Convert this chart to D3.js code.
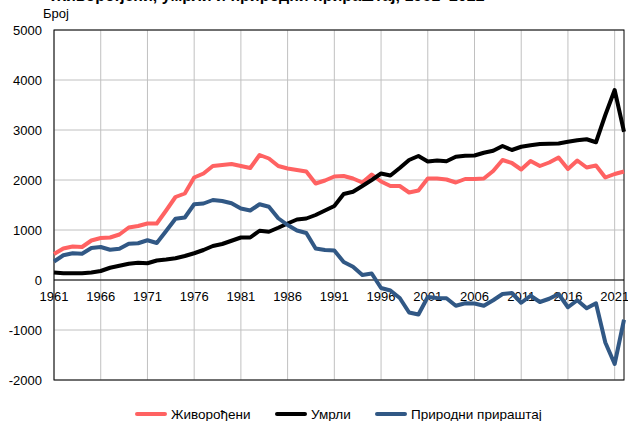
<!DOCTYPE html>
<html>
<head>
<meta charset="utf-8">
<script src="https://cdn.jsdelivr.net/npm/d3@7"></script>
<style>
  body { margin: 0; background: #fff; }
  text { font-family: "Liberation Sans", Arial, sans-serif; }
</style>
</head>
<body>
<div id="chart"></div>
<script>
// Years and series values
var years = d3.range(1961, 2023);

var births = [520, 630, 670, 660, 790, 840, 850, 910, 1050, 1080,
              1130, 1130, 1390, 1660, 1730, 2050, 2130, 2280, 2300, 2320,
              2280, 2240, 2500, 2430, 2280, 2230, 2200, 2170, 1930, 1990,
              2070, 2080, 2030, 1950, 2110, 1970, 1880, 1880, 1750, 1790,
              2030, 2030, 2010, 1950, 2020, 2020, 2030, 2180, 2400, 2340,
              2210, 2380, 2280, 2350, 2450, 2220, 2390, 2250, 2290, 2050,
              2120, 2170];

var deaths = [150, 135, 135, 135, 150, 180, 245, 285, 325, 345,
              335, 390, 410, 435, 480, 535, 600, 680, 720, 785,
              850, 850, 985, 965, 1045, 1130, 1210, 1230, 1300, 1390,
              1480, 1720, 1765, 1880, 2000, 2130, 2090, 2240, 2400, 2480,
              2370, 2390, 2375, 2465, 2485, 2490, 2545, 2585, 2680, 2600,
              2665, 2695, 2720, 2725, 2730, 2765, 2795, 2815, 2755, 3300,
              3800, 2965];

var natural = [370, 495, 535, 525, 640, 660, 605, 625, 725, 735,
               795, 740, 980, 1225, 1250, 1515, 1530, 1600, 1580, 1535,
               1430, 1390, 1515, 1465, 1235, 1100, 990, 940, 630, 600,
               590, 360, 265, 100, 130, -160, -210, -360, -650, -690,
               -340, -360, -365, -515, -465, -470, -515, -405, -280, -260,
               -455, -315, -440, -375, -280, -545, -405, -565, -465, -1250,
               -1680, -795];

var seriesNames = ["Живорођени", "Умрли", "Природни прираштај"];
var yTicks = [-2000, -1000, 0, 1000, 2000, 3000, 4000, 5000];
var xTicks = d3.range(1961, 2022, 5);

var svgWidth = 628;
var svgHeight = 421;

var svg = d3.select("#chart")
            .append("svg")
            .attr("width", svgWidth)
            .attr("height", svgHeight);

var x = d3.scaleLinear().domain([1961, 2022]).range([54, 624]);
var y = d3.scaleLinear().domain([-2000, 5000]).range([380, 30]);

// title, cut off at the very top like in the original
svg.append("text")
   .attr("x", 268)
   .attr("y", 1)
   .attr("text-anchor", "middle")
   .attr("font-size", "16px")
   .attr("font-weight", "bold")
   .text("Живорођени, умрли и природни прираштај, 1961–2022");

// y axis label
svg.append("text")
   .attr("x", 43)
   .attr("y", 18)
   .attr("font-size", "13px")
   .text("Број");

// grid
svg.append("g")
   .selectAll("line")
   .data(yTicks)
   .enter()
   .append("line")
   .attr("x1", x(1961))
   .attr("x2", x(2022))
   .attr("y1", d => y(d))
   .attr("y2", d => y(d))
   .attr("stroke", "#c0c0c0")
   .attr("stroke-width", 1);

svg.append("g")
   .selectAll("line")
   .data(xTicks)
   .enter()
   .append("line")
   .attr("x1", d => x(d))
   .attr("x2", d => x(d))
   .attr("y1", y(5000))
   .attr("y2", y(-2000))
   .attr("stroke", "#c0c0c0")
   .attr("stroke-width", 1);

// frame
svg.append("rect")
   .attr("x", x(1961))
   .attr("y", y(5000))
   .attr("width", x(2022) - x(1961))
   .attr("height", y(-2000) - y(5000))
   .attr("fill", "none")
   .attr("stroke", "#000")
   .attr("stroke-width", 1);

// zero line
svg.append("line")
   .attr("x1", x(1961))
   .attr("x2", x(2022))
   .attr("y1", y(0))
   .attr("y2", y(0))
   .attr("stroke", "#000")
   .attr("stroke-width", 1);

// y tick labels
svg.append("g")
   .selectAll("text")
   .data(yTicks)
   .enter()
   .append("text")
   .attr("x", 42)
   .attr("y", d => y(d))
   .attr("dy", "0.35em")
   .attr("text-anchor", "end")
   .attr("font-size", "13px")
   .text(d => d);

// x tick labels along zero line
svg.append("g")
   .selectAll("text")
   .data(xTicks)
   .enter()
   .append("text")
   .attr("x", d => x(d))
   .attr("y", y(0) + 21)
   .attr("text-anchor", "middle")
   .attr("font-size", "13px")
   .text(d => d);

// lines
var colors = ["#ff6262", "#000000", "#315885"];
var allSeries = [births, deaths, natural];

var line = d3.line()
             .x((d, i) => x(years[i]))
             .y(d => y(d));

svg.append("g")
   .selectAll("path")
   .data(allSeries)
   .enter()
   .append("path")
   .attr("d", d => line(d))
   .attr("fill", "none")
   .attr("stroke", (d, i) => colors[i])
   .attr("stroke-width", 4)
   .attr("stroke-linejoin", "round");

// legend
var legendX = [137, 277, 377];
var legend = svg.append("g")
                .selectAll("g")
                .data(seriesNames)
                .enter()
                .append("g")
                .attr("transform", (d, i) => `translate(${legendX[i]}, 414)`);

legend.append("line")
      .attr("x1", 0)
      .attr("x2", 28)
      .attr("stroke", (d, i) => colors[i])
      .attr("stroke-width", 4)
      .attr("stroke-linecap", "round");

legend.append("text")
      .attr("x", 34)
      .attr("dy", "0.35em")
      .attr("font-size", "13.5px")
      .text(d => d);
</script>
</body>
</html>
